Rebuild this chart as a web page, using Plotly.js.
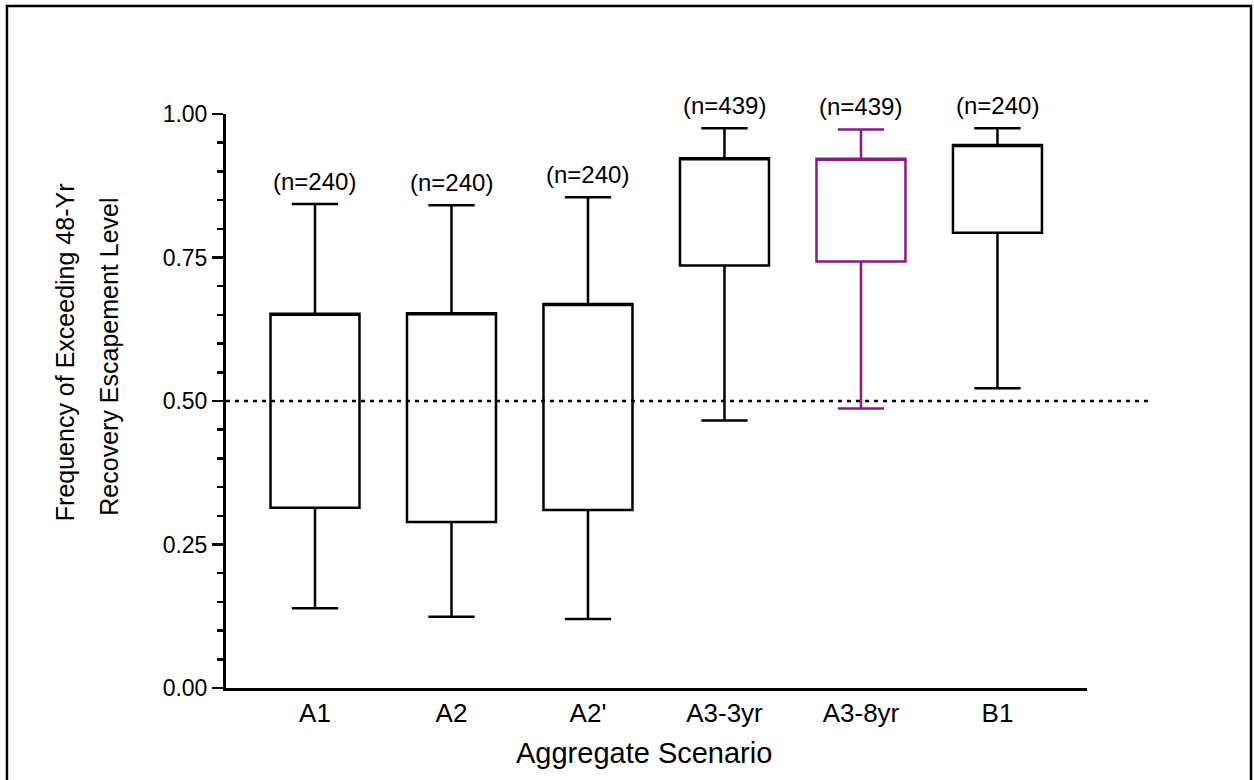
<!DOCTYPE html>
<html>
<head>
<meta charset="utf-8">
<script src="https://cdn.plot.ly/plotly-3.0.1.min.js"></script>
<style>html,body{margin:0;padding:0;background:#fff;}#chart{width:1254px;height:780px;}</style>
</head>
<body>
<div id="chart"></div>
<script>
// ---- data ----
var categories = ['A1', 'A2', "A2'", 'A3-3yr', 'A3-8yr', 'B1'];
var lowerWhisker = [0.139, 0.124, 0.120, 0.466, 0.487, 0.522];
var q1Values     = [0.314, 0.289, 0.310, 0.736, 0.743, 0.793];
var q3Values     = [0.652, 0.653, 0.669, 0.923, 0.922, 0.946];
var upperWhisker = [0.843, 0.841, 0.855, 0.975, 0.973, 0.975];
var sampleLabels = ['(n=240)', '(n=240)', '(n=240)', '(n=439)', '(n=439)', '(n=240)'];
var boxColors    = ['#000000', '#000000', '#000000', '#000000', '#8a1a8a', '#000000'];
var referenceLevel = 0.5;

var FONT = 'Liberation Sans, Arial, Helvetica, sans-serif';

var traces = categories.map(function (c, i) {
  return {
    type: 'box',
    x: [c],
    q1: [q1Values[i]],
    median: [q3Values[i]],
    q3: [q3Values[i]],
    lowerfence: [lowerWhisker[i]],
    upperfence: [upperWhisker[i]],
    width: 0.652,
    whiskerwidth: 0.52,
    fillcolor: '#ffffff',
    line: {color: boxColors[i], width: 2.5},
    boxpoints: false,
    hoverinfo: 'skip',
    showlegend: false
  };
});

var annotations = categories.map(function (c, i) {
  return {
    x: c, y: upperWhisker[i], xref: 'x', yref: 'y',
    text: sampleLabels[i], showarrow: false,
    yanchor: 'middle', xanchor: 'center', yshift: 23,
    font: {family: FONT, size: 24, color: '#000'}
  };
});

annotations.push({
  xref: 'paper', yref: 'paper', x: -0.187, y: 0.585,
  text: 'Frequency of Exceeding 48-Yr', textangle: -90, showarrow: false,
  xanchor: 'center', yanchor: 'middle',
  font: {family: FONT, size: 25, color: '#000'}
});
annotations.push({
  xref: 'paper', yref: 'paper', x: -0.136, y: 0.577,
  text: 'Recovery Escapement Level', textangle: -90, showarrow: false,
  xanchor: 'center', yanchor: 'middle',
  font: {family: FONT, size: 25, color: '#000'}
});
annotations.push({
  xref: 'paper', yref: 'paper', x: 0.4855, y: -0.113,
  text: 'Aggregate Scenario', showarrow: false,
  xanchor: 'center', yanchor: 'middle',
  font: {family: FONT, size: 29, color: '#000'}
});

var layout = {
  width: 1254, height: 780,
  margin: {l: 226, r: 167, t: 114, b: 92, pad: 0},
  paper_bgcolor: '#ffffff', plot_bgcolor: '#ffffff',
  showlegend: false,
  boxmode: 'overlay',
  font: {family: FONT, color: '#000'},
  xaxis: {
    type: 'category',
    categoryorder: 'array', categoryarray: categories,
    range: [-0.652, 5.656],
    showgrid: false, zeroline: false,
    showline: true, linecolor: '#000', linewidth: 3,
    ticks: '',
    tickfont: {family: FONT, size: 26, color: '#000'},
    fixedrange: true
  },
  yaxis: {
    range: [0, 1],
    tickvals: [0, 0.25, 0.5, 0.75, 1.0],
    tickformat: '.2f',
    showgrid: false, zeroline: false,
    showline: true, linecolor: '#000', linewidth: 3,
    ticks: 'outside', ticklen: 11, tickwidth: 2.5, tickcolor: '#000',
    minor: {dtick: 0.05, ticks: 'outside', ticklen: 6, tickwidth: 2.5, tickcolor: '#000', showgrid: false},
    tickfont: {family: FONT, size: 23, color: '#000'},
    fixedrange: true
  },
  shapes: [
    {
      type: 'line', xref: 'paper', yref: 'y',
      x0: 0, x1: 1.0755, y0: referenceLevel, y1: referenceLevel,
      line: {color: '#000', width: 2.5, dash: '4px,5px'}, layer: 'above'
    },
    {
      type: 'rect', xref: 'paper', yref: 'paper',
      x0: -0.2544, x1: 1.1905, y0: -0.25, y1: 1.1882,
      line: {color: '#000', width: 2.5}, fillcolor: 'rgba(0,0,0,0)'
    }
  ],
  annotations: annotations
};

Plotly.newPlot('chart', traces, layout, {displayModeBar: false, staticPlot: true});
</script>
</body>
</html>
